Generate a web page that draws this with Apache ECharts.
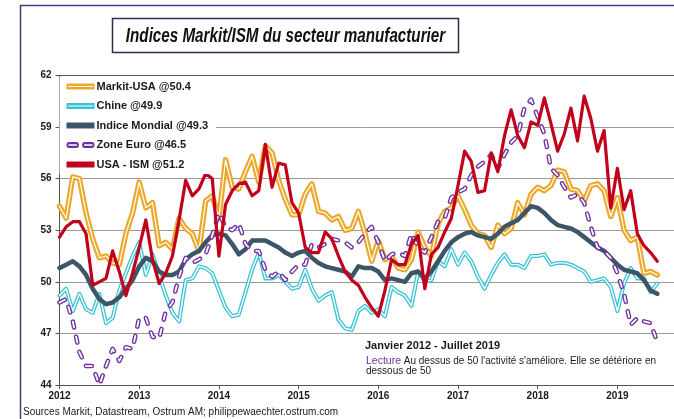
<!DOCTYPE html>
<html>
<head>
<meta charset="utf-8">
<script src="https://cdn.jsdelivr.net/npm/echarts@6/dist/echarts.min.js"></script>
<style>
html,body{margin:0;padding:0;background:#fff;}
#chart{width:674px;height:419px;}
</style>
</head>
<body>
<div id="chart"></div>
<script>
// Monthly data, Jan 2012 - Jul 2019
var startYear = 2012;
var yTicks = [44, 47, 50, 53, 56, 59, 62];

var markitUSA = [
  54.4, 53.7, 56.1, 56.0, 54.0, 52.5, 51.4, 51.5, 51.1, 51.0, 52.8, 54.0,
  55.8, 54.3, 54.6, 52.1, 52.3, 51.9, 53.7, 53.1, 52.8, 51.8, 54.7, 55.0,
  53.7, 57.1, 55.5, 55.4, 56.4, 57.3, 55.8, 57.9, 57.5, 55.9, 54.8, 53.9,
  53.9, 55.1, 55.7, 54.1, 54.0, 53.6, 53.8, 53.0, 53.1, 54.1, 52.8, 51.2,
  52.4, 51.3, 51.5, 50.8, 50.7, 51.3, 52.9, 52.0, 51.5, 53.4, 54.1, 54.3,
  55.0, 54.2, 53.3, 52.8, 52.7, 52.0, 53.3, 52.8, 53.1, 54.6, 53.9, 55.1,
  55.5, 55.3, 55.6, 56.5, 56.4, 55.4, 55.3, 54.7, 55.6, 55.7, 55.3, 53.8,
  54.9, 53.0, 52.4, 52.6, 50.5, 50.6, 50.4
];
var chine = [
  49.2, 49.6, 48.3, 49.3, 48.4, 48.2, 49.3, 47.6, 47.9, 49.5, 50.5, 51.5,
  52.3, 50.4, 51.6, 50.4, 49.2, 48.2, 47.7, 50.1, 50.2, 50.9, 50.8, 50.5,
  49.5, 48.5, 48.0, 48.1, 49.4, 50.7, 51.7, 50.2, 50.2, 50.4, 50.0, 49.6,
  49.7, 50.7, 49.6, 48.9, 49.2, 49.4, 47.8, 47.3, 47.2, 48.3, 48.6, 48.2,
  48.4, 48.0, 49.7, 49.4, 49.2, 48.6, 50.6, 50.0, 50.1, 51.2, 50.9, 51.9,
  51.0, 51.7, 51.2, 50.3, 49.6, 50.4, 51.1, 51.6, 51.0, 51.0, 50.8, 51.5,
  51.5, 51.6, 51.0, 51.1, 51.1, 51.0, 50.8, 50.6, 50.0, 50.1, 50.2, 49.7,
  48.3, 49.9, 50.8, 50.2, 50.2, 49.4, 49.9
];
var mondial = [
  50.8, 51.0, 51.2, 50.9, 50.4, 49.6, 49.0, 48.7, 48.8, 49.1, 49.6, 50.1,
  50.9, 51.4, 51.2, 50.6, 50.4, 50.4, 50.6, 51.3, 51.6, 51.8, 52.3, 52.7,
  52.8, 52.7, 52.2, 51.6, 51.9, 52.4, 52.4, 52.4, 52.2, 52.0, 51.7, 51.5,
  51.7, 51.8, 51.4, 51.1, 50.9, 50.8, 50.7, 50.6, 50.3, 50.9, 50.8, 50.8,
  50.6, 50.1, 50.2, 50.1, 50.0, 50.5, 50.6, 50.2, 50.6, 51.2, 51.8, 52.3,
  52.6, 52.8, 52.9, 52.7, 52.6, 52.5, 52.8, 53.2, 53.4, 53.6, 54.0, 54.4,
  54.3, 54.0, 53.6, 53.3, 53.2, 53.1, 52.9, 52.6, 52.3, 52.0, 51.8, 51.4,
  51.0, 50.7, 50.6, 50.5, 50.1, 49.5, 49.3
];
var zoneEuro = [
  48.8, 49.0, 47.7, 45.9, 45.1, 45.1, 44.0, 45.1, 46.1, 45.4, 46.2, 46.1,
  47.9, 47.9, 46.8, 46.7, 48.3, 48.8, 50.3, 51.4, 51.1, 51.3, 51.6, 52.7,
  54.0, 53.2, 53.0, 53.4, 52.2, 51.8, 51.8, 50.7, 50.3, 50.6, 50.1, 50.6,
  51.0, 51.0, 52.2, 52.0, 52.2, 52.5, 52.4, 52.3, 52.0, 52.3, 52.8, 53.2,
  52.3, 51.2, 51.6, 51.7, 51.5, 52.8, 52.0, 51.7, 52.6, 53.5, 53.7, 54.9,
  55.2, 55.4, 56.2, 56.7, 57.0, 57.4, 56.6, 57.4, 58.1, 58.5, 60.1, 60.6,
  59.6, 58.6, 56.6, 56.2, 55.5, 54.9, 55.1, 54.6, 53.2, 52.0, 51.8, 51.4,
  50.5, 49.3, 47.5, 47.9, 47.7, 47.6, 46.5
];
var usaISM = [
  52.6, 53.2, 53.5, 53.5, 52.8, 49.8, 50.0, 50.2, 51.8, 50.6, 49.2, 50.5,
  52.0, 53.6, 51.3, 49.9, 50.5, 51.5, 53.6, 55.9, 55.0, 55.4, 56.3, 56.0,
  51.5, 54.5, 55.3, 55.7, 55.8, 55.0, 55.3, 58.0, 55.5, 56.9, 56.8, 54.6,
  54.0, 52.0, 51.7, 51.7, 52.9, 52.5, 51.5, 50.6, 50.1, 49.8, 49.1, 48.5,
  48.0, 49.5, 51.3, 51.0, 51.0, 52.2, 52.7, 49.6, 51.6, 52.0, 52.9, 53.7,
  55.6, 57.6, 57.0, 55.2, 55.3, 57.5, 56.4, 58.5, 60.0, 58.5, 57.8, 59.3,
  59.1, 60.7, 59.2, 57.6, 58.6, 60.1, 58.2, 60.8, 59.5, 57.6, 58.8, 54.3,
  56.6, 54.2, 55.3, 52.8, 52.1, 51.7, 51.2
];

var seriesNames = ['Markit-USA @50.4', 'Chine @49.9', 'Indice Mondial @49.3', 'Zone Euro @46.5', 'USA - ISM @51.2'];

function pairs(arr) { return arr.map(function (v, i) { return [i, v]; }); }

var C_ORANGE = '#EBA92C', C_CYAN = '#38C3D5', C_DARK = '#3D5667', C_PURPLE = '#7030A0', C_RED = '#C2001B';

var chart = echarts.init(document.getElementById('chart'), null, {renderer: 'canvas'});
var FONT = 'Liberation Sans, Arial, sans-serif';

function lineSeries(name, data, color, width, extra) {
  return {
    name: name, type: 'line', data: pairs(data), showSymbol: false, symbol: 'none',
    silent: true, animation: false,
    lineStyle: Object.assign({color: color, width: width, join: 'round', cap: 'round'}, extra || {}),
    itemStyle: {color: color}
  };
}

var hollowBar = 'path://M0,0L28,0L28,6L0,6Z M1.5,2.4L1.5,3.6L26.5,3.6L26.5,2.4Z';
var solidBar = 'path://M0,1L28,1L28,5L0,5Z';
var redBar = 'path://M0,1.3L28,1.3L28,4.7L0,4.7Z';
var dashIcon = 'path://M3,0.5L10,0.5A2.5,2.5 0 0 1 10,5.5L3,5.5A2.5,2.5 0 0 1 3,0.5Z M3,2.3A0.7,0.7 0 0 0 3,3.7L10,3.7A0.7,0.7 0 0 0 10,2.3Z M18,0.5L25,0.5A2.5,2.5 0 0 1 25,5.5L18,5.5A2.5,2.5 0 0 1 18,0.5Z M18,2.3A0.7,0.7 0 0 0 18,3.7L25,3.7A0.7,0.7 0 0 0 25,2.3Z';

// 2012 tick at x=59.5, 79.7 px per year, plot runs to the right edge of the picture
var GRID_LEFT = 59.5, PX_PER_YEAR = 79.7, GRID_W = 674 - GRID_LEFT;
var X_MAX = GRID_W / PX_PER_YEAR * 12;

var option = {
  backgroundColor: '#fff',
  animation: false,
  grid: {left: GRID_LEFT, top: 75.5, width: GRID_W, height: 309.5, show: false},
  xAxis: [{
    type: 'value', min: 0, max: X_MAX, interval: 12,
    axisLine: {show: true, lineStyle: {color: '#555', width: 1}},
    axisTick: {show: true, length: 4, lineStyle: {color: '#555'}},
    splitLine: {show: false},
    axisLabel: {
      color: '#1a1a1a', fontFamily: FONT, fontWeight: 'bold', fontSize: 10, margin: 6,
      showMaxLabel: false,
      formatter: function (v) { return String(startYear + Math.round(v / 12)); }
    }
  }, {
    type: 'value', position: 'top', min: 0, max: X_MAX,
    axisLine: {show: true, lineStyle: {color: '#555', width: 1}},
    axisTick: {show: false}, axisLabel: {show: false}, splitLine: {show: false}
  }],
  yAxis: {
    type: 'value', min: yTicks[0], max: yTicks[yTicks.length - 1], interval: 3,
    axisLine: {show: true, lineStyle: {color: '#555', width: 1}},
    axisTick: {show: true, length: 4, lineStyle: {color: '#555'}},
    splitLine: {show: true, lineStyle: {color: '#9A9A9A', width: 1}},
    axisLabel: {color: '#1a1a1a', fontFamily: FONT, fontWeight: 'bold', fontSize: 10, margin: 8}
  },
  legend: {
    show: true, orient: 'vertical', left: 59.5, top: 77,
    padding: [4, 8, 4, 7],
    backgroundColor: '#fff',
    itemWidth: 28, itemHeight: 6, itemGap: 8.5,
    symbolKeepAspect: false,
    textStyle: {fontFamily: FONT, fontWeight: 'bold', fontSize: 11, color: '#1a1a1a', padding: [0, 0, 0, -3]},
    itemStyle: {borderWidth: 0},
    lineStyle: {width: 0},
    data: [
      {name: seriesNames[0], icon: hollowBar},
      {name: seriesNames[1], icon: hollowBar},
      {name: seriesNames[2], icon: solidBar},
      {name: seriesNames[3], icon: dashIcon},
      {name: seriesNames[4], icon: redBar}
    ]
  },
  series: [
    lineSeries(seriesNames[0], markitUSA, C_ORANGE, 5.5),
    lineSeries('_w0', markitUSA, '#ffffff', 1.2),
    lineSeries(seriesNames[1], chine, C_CYAN, 4),
    lineSeries('_w1', chine, '#ffffff', 1.4),
    lineSeries(seriesNames[2], mondial, C_DARK, 4.5),
    lineSeries(seriesNames[3], zoneEuro, C_PURPLE, 4.5, {type: [6, 9.5]}),
    lineSeries('_w3', zoneEuro, '#ffffff', 1.8, {type: [6, 9.5]}),
    lineSeries(seriesNames[4], usaISM, C_RED, 3.2)
  ],
  graphic: [
    {type: 'rect', silent: true, z: 100,
     shape: {x: 20.5, y: 5.5, width: 700, height: 480},
     style: {fill: 'none', stroke: '#3F3F75', lineWidth: 1.5}},
    {type: 'rect', silent: true, z: 100,
     shape: {x: 112.5, y: 18.5, width: 346, height: 34},
     style: {fill: '#fff', stroke: '#2E2E4E', lineWidth: 1.5}},
    {type: 'text', silent: true, z: 101, x: 285.5, y: 36, scaleX: 0.76,
     style: {text: 'Indices Markit/ISM du secteur manufacturier', fill: '#111',
       font: 'italic bold 20px ' + FONT, align: 'center', verticalAlign: 'middle'}},
    {type: 'text', silent: true, z: 101, left: 365, top: 340,
     style: {text: 'Janvier 2012 - Juillet 2019', fill: '#1a1a1a',
       font: 'bold 11px ' + FONT}},
    {type: 'text', silent: true, z: 101, left: 366, top: 356,
     style: {text: '{p|Lecture} Au dessus de 50 l\'activité s\'améliore. Elle se détériore en\ndessous de 50',
       fill: '#1a1a1a', font: '10px ' + FONT, lineHeight: 9.5,
       rich: {p: {fill: '#7030A0', font: '10.5px ' + FONT, lineHeight: 9.5}}}},
    {type: 'text', silent: true, z: 101, left: 23, top: 407,
     style: {text: 'Sources Markit, Datastream, Ostrum AM; philippewaechter.ostrum.com', fill: '#1a1a1a',
       font: '10px ' + FONT}}
  ]
};
chart.setOption(option);
</script>
</body>
</html>
